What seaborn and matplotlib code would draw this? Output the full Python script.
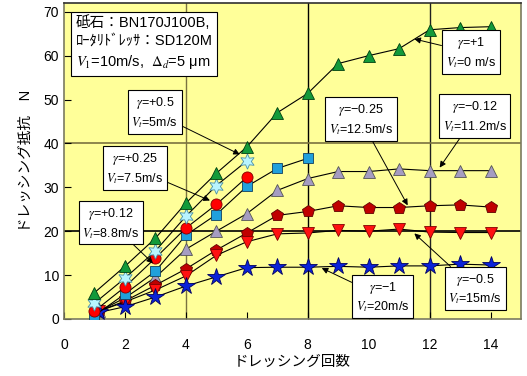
import numpy as np
import pandas as pd
import matplotlib
matplotlib.use('Agg')
import matplotlib.pyplot as plt
import seaborn as sns

# ドレッシング回数 / 抵抗値 (N)
x_full = [1, 2, 3, 4, 5, 6, 7, 8, 9, 10, 11, 12, 13, 14]
x_long = [1.15, 2, 3, 4, 5, 6, 7, 8, 9, 10, 11, 12, 13, 14]
x_short = [1, 2, 3, 4, 5, 6]
x_mid = [1, 2, 3, 4, 5, 6, 7, 8]

y_g_p100 = [6.0, 12.0, 18.4, 26.4, 33.2, 39.2, 47.0, 51.4, 58.2, 60.0, 61.6, 65.9, 66.4, 66.6]
y_g_p050 = [3.6, 9.3, 15.5, 23.4, 30.4, 36.0]
y_g_p025 = [1.8, 7.3, 13.9, 20.7, 26.1, 32.3]
y_g_p012 = [0.8, 5.7, 10.9, 19.1, 23.8, 30.2, 34.3, 36.6]
y_g_m012 = [1.8, 4.8, 9.5, 15.9, 20.0, 24.0, 29.3, 32.0, 33.6, 33.6, 34.2, 33.8, 33.8, 33.8]
y_g_m025 = [1.8, 4.1, 7.7, 11.4, 15.7, 19.6, 23.6, 24.5, 25.8, 25.4, 25.4, 25.8, 26.0, 25.5]
y_g_m050 = [1.8, 3.9, 6.6, 9.8, 14.5, 17.6, 19.4, 19.6, 20.2, 20.0, 20.5, 19.8, 19.7, 19.7]
y_g_m100 = [1.5, 2.8, 5.0, 7.5, 9.6, 11.7, 11.8, 11.8, 12.0, 11.8, 12.1, 12.1, 12.5, 12.3]

series = [
    # (x, y, marker, face, edge, size)
    (x_long, y_g_m012, '^', '#a59cc2', '#555555', 9),
    (x_long, y_g_m025, 'p', '#c00000', '#600000', 9),
    (x_long, y_g_m050, 'v', '#ff1010', '#800000', 9),
    (x_long, y_g_m100, '*', '#0a22d8', '#000060', 13),
    (x_mid, y_g_p012, 's', '#20a0dc', '#104060', 6.5),
    (x_short, y_g_p025, 'o', '#ff0000', '#800000', 8),
    (x_short, y_g_p050, (6, 1, 0), '#b8f4ff', '#4a90a8', 11),
    (x_full, y_g_p100, '^', '#129a3a', '#004010', 8),
]

plt.rcParams['mathtext.fontset'] = 'stix'
plt.rcParams['font.family'] = ['Liberation Sans', 'Noto Sans CJK JP', 'DejaVu Sans']

fig = plt.figure(figsize=(5.27, 3.76), dpi=100)
ax = fig.add_axes([64 / 527, 1 - 319 / 376, 457 / 527, 316 / 376])
ax.set_facecolor('#ffff99')

# グリッド
for gx, c in [(4, '#7a7240'), (8, '#000000'), (12, '#202020')]:
    ax.axvline(gx, color=c, lw=1.0, zorder=1)
for gy, c in [(20, '#000000'), (40, '#7a7240')]:
    ax.axhline(gy, color=c, lw=1.2, zorder=1)

for xs, ys, mk, fc, ec, ms in series:
    sns.lineplot(x=xs, y=ys, ax=ax, color='black', lw=0.8, marker=mk,
                 markersize=ms, markerfacecolor=fc, markeredgecolor=ec,
                 markeredgewidth=0.6, zorder=3, estimator=None, sort=False)

ax.set_xlim(0, 15)
ax.set_ylim(0, 72)
ax.set_xticks(range(0, 15, 2))
ax.set_yticks(range(0, 71, 10))
ax.tick_params(direction='in', length=5, labelsize=10, colors='black')
ax.tick_params(axis='x', pad=14)
for s in ax.spines.values():
    s.set_color('#7a7a60')
    s.set_linewidth(1.2)
ax.spines['top'].set_color('#303030')

ax.set_xlabel('ドレッシング回数', fontsize=10.5, labelpad=2)
ax.set_ylabel('ドレッシング抵抗　N', fontsize=10.5, labelpad=8)

box = dict(boxstyle='square,pad=0.3', fc='white', ec='black', lw=0.8)
arrow = dict(arrowstyle='-|>', color='black', lw=0.7, mutation_scale=9,
             shrinkA=0, shrinkB=0)

ax.text(0.38, 62.9, '砥石：BN170J100B,\nﾛｰﾀﾘﾄﾞﾚｯｻ：SD120M\n$V_1$=10m/s,  $\\Delta_d$=5 μm',
        fontsize=10.5, ha='left', va='center', linespacing=1.4,
        bbox=dict(boxstyle='square,pad=0.3', fc='white', ec='black', lw=0.8),
        zorder=6)

labels = [
    ('$\\gamma$=+1\n$V_t$=0 m/s', (11.5, 63.8), (13.35, 60.7)),
    ('$\\gamma$=+0.5\n$V_t$=5m/s', (5.77, 37.5), (2.98, 47.0)),
    ('$\\gamma$=+0.25\n$V_t$=7.5m/s', (4.79, 27.0), (2.33, 34.3)),
    ('$\\gamma$=+0.12\n$V_t$=8.8m/s', (2.92, 12.7), (1.54, 21.8)),
    ('$\\gamma$=−0.25\n$V_t$=12.5m/s', (11.28, 25.9), (9.74, 45.4)),
    ('$\\gamma$=−0.12\n$V_t$=11.2m/s', (12.33, 34.5), (13.48, 46.1)),
    ('$\\gamma$=−0.5\n$V_t$=15m/s', (11.5, 19.5), (13.5, 6.8)),
    ('$\\gamma$=−1\n$V_t$=20m/s', (8.46, 11.6), (10.46, 5.0)),
]
for txt, tip, pos in labels:
    ax.annotate(txt, xy=tip, xytext=pos, fontsize=9, ha='center', va='center',
                linespacing=1.35, bbox=box, arrowprops=arrow, zorder=6)

fig.savefig('out.png', dpi=100, facecolor='white')
